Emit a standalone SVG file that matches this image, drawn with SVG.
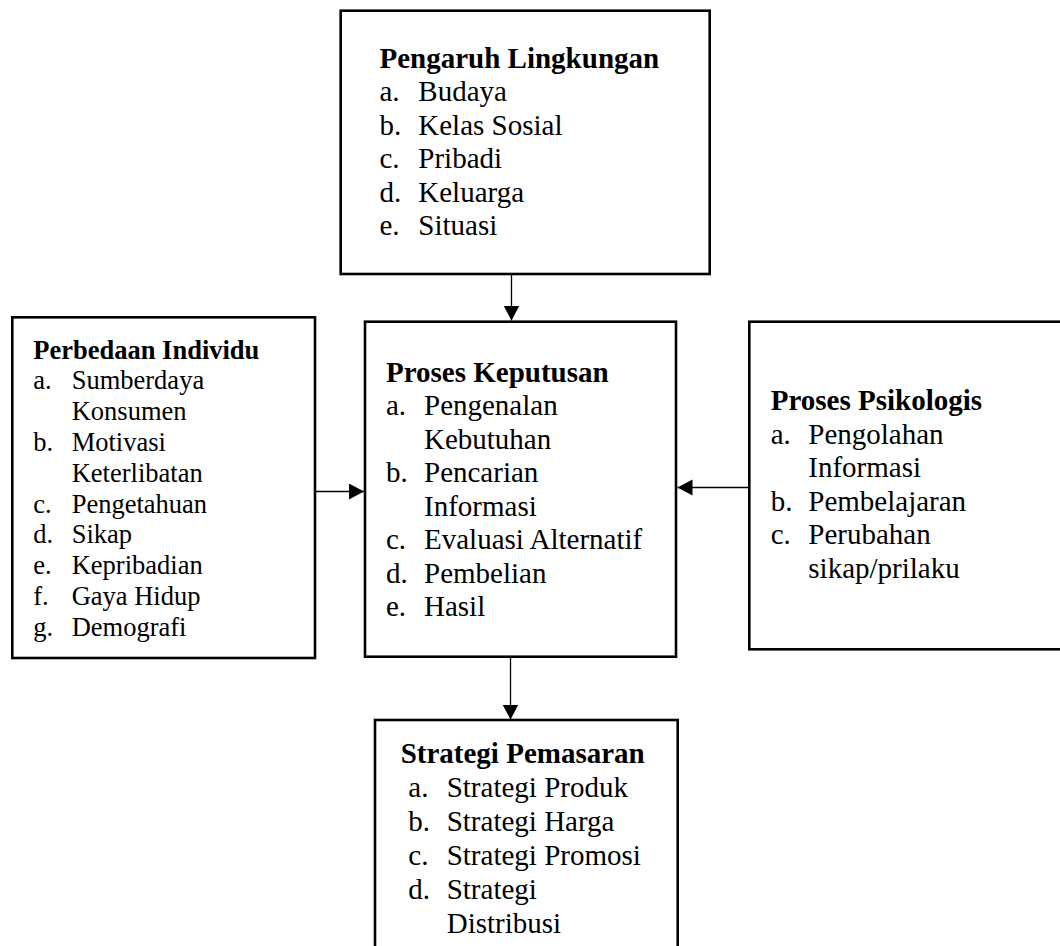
<svg xmlns="http://www.w3.org/2000/svg" width="1060" height="946" viewBox="0 0 1060 946">
<style>
.box{fill:#fff;stroke:#000;stroke-width:2.6}
.t{font-family:"Liberation Serif","Times New Roman",serif;font-size:29px;fill:#000}
.s{font-size:26.5px}
.h{font-weight:bold}
.c{stroke:#000;stroke-width:1.3;fill:none}
</style>
<defs>
<marker id="arr" markerUnits="userSpaceOnUse" markerWidth="16" markerHeight="18" refX="15" refY="8" orient="auto">
<path d="M0,0 L15,8 L0,16 Z" fill="#000"/>
</marker>
</defs>
<rect width="1060" height="946" fill="#fff"/>
<g id="connectors">
<line class="c" x1="511.5" y1="274" x2="511.5" y2="320.5" marker-end="url(#arr)"/>
<line class="c" x1="315" y1="491.5" x2="364" y2="491.5" marker-end="url(#arr)"/>
<line class="c" x1="749" y1="487.5" x2="677.5" y2="487.5" marker-end="url(#arr)"/>
<line class="c" x1="510.5" y1="649" x2="510.5" y2="719.5" marker-end="url(#arr)"/>
</g>
<g id="pengaruh-lingkungan">
<rect class="box" x="340.7" y="10.7" width="369" height="263.3"/>
<text class="t h" x="379.5" y="67.5">Pengaruh Lingkungan</text>
<text class="t"><tspan x="379.5" y="101">a.</tspan><tspan x="418.3">Budaya</tspan></text>
<text class="t"><tspan x="379.5" y="134.5">b.</tspan><tspan x="418.3">Kelas Sosial</tspan></text>
<text class="t"><tspan x="379.5" y="168">c.</tspan><tspan x="418.3">Pribadi</tspan></text>
<text class="t"><tspan x="379.5" y="201.5">d.</tspan><tspan x="418.3">Keluarga</tspan></text>
<text class="t"><tspan x="379.5" y="235">e.</tspan><tspan x="418.3">Situasi</tspan></text>
</g>
<g id="perbedaan-individu">
<rect class="box" x="12.3" y="317.3" width="302.7" height="340.7"/>
<text class="t s h" x="33.3" y="358.5">Perbedaan Individu</text>
<text class="t s"><tspan x="33.3" y="389.3">a.</tspan><tspan x="71.7">Sumberdaya</tspan></text>
<text class="t s" x="71.7" y="420.1">Konsumen</text>
<text class="t s"><tspan x="33.3" y="450.9">b.</tspan><tspan x="71.7">Motivasi</tspan></text>
<text class="t s" x="71.7" y="481.7">Keterlibatan</text>
<text class="t s"><tspan x="33.3" y="512.5">c.</tspan><tspan x="71.7">Pengetahuan</tspan></text>
<text class="t s"><tspan x="33.3" y="543.3">d.</tspan><tspan x="71.7">Sikap</tspan></text>
<text class="t s"><tspan x="33.3" y="574.1">e.</tspan><tspan x="71.7">Kepribadian</tspan></text>
<text class="t s"><tspan x="33.3" y="604.9">f.</tspan><tspan x="71.7">Gaya Hidup</tspan></text>
<text class="t s"><tspan x="33.3" y="635.7">g.</tspan><tspan x="71.7">Demografi</tspan></text>
</g>
<g id="proses-keputusan">
<rect class="box" x="365" y="321.7" width="311" height="335"/>
<text class="t h" x="386" y="381.5">Proses Keputusan</text>
<text class="t"><tspan x="386" y="415">a.</tspan><tspan x="424">Pengenalan</tspan></text>
<text class="t" x="424" y="448.5">Kebutuhan</text>
<text class="t"><tspan x="386" y="482">b.</tspan><tspan x="424">Pencarian</tspan></text>
<text class="t" x="424" y="515.5">Informasi</text>
<text class="t"><tspan x="386" y="549">c.</tspan><tspan x="424">Evaluasi Alternatif</tspan></text>
<text class="t"><tspan x="386" y="582.5">d.</tspan><tspan x="424">Pembelian</tspan></text>
<text class="t"><tspan x="386" y="616">e.</tspan><tspan x="424">Hasil</tspan></text>
</g>
<g id="proses-psikologis">
<rect class="box" x="749.3" y="321.7" width="320" height="327.6"/>
<text class="t h" x="770.7" y="410">Proses Psikologis</text>
<text class="t"><tspan x="770.7" y="443.5">a.</tspan><tspan x="808.3">Pengolahan</tspan></text>
<text class="t" x="808.3" y="477">Informasi</text>
<text class="t"><tspan x="770.7" y="510.5">b.</tspan><tspan x="808.3">Pembelajaran</tspan></text>
<text class="t"><tspan x="770.7" y="544">c.</tspan><tspan x="808.3">Perubahan</tspan></text>
<text class="t" x="808.3" y="577.5">sikap/prilaku</text>
</g>
<g id="strategi-pemasaran">
<rect class="box" x="375" y="720" width="302.7" height="240"/>
<text class="t h" x="400.7" y="763">Strategi Pemasaran</text>
<text class="t"><tspan x="408.3" y="797">a.</tspan><tspan x="446.7">Strategi Produk</tspan></text>
<text class="t"><tspan x="408.3" y="831">b.</tspan><tspan x="446.7">Strategi Harga</tspan></text>
<text class="t"><tspan x="408.3" y="865">c.</tspan><tspan x="446.7">Strategi Promosi</tspan></text>
<text class="t"><tspan x="408.3" y="899">d.</tspan><tspan x="446.7">Strategi</tspan></text>
<text class="t" x="446.7" y="933">Distribusi</text>
</g>
</svg>
